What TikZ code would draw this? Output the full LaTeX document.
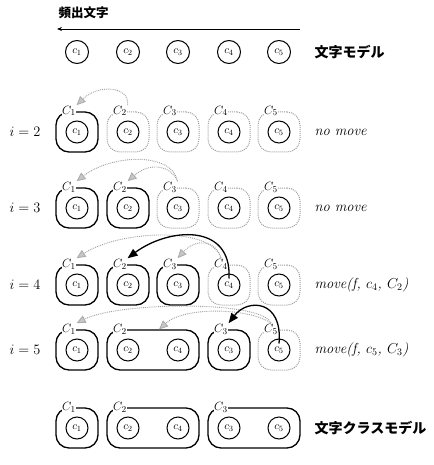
\documentclass[tikz,border=0pt]{standalone}
\usepackage{fontspec}
\newfontfamily\cjk{Noto Sans CJK JP}
\usetikzlibrary{arrows.meta}
\begin{document}
\begin{tikzpicture}[x=1pt,y=-1pt,
  chr/.style={circle, draw, line width=1pt, minimum size=22pt, inner sep=0pt, font=\fontsize{11}{11}\selectfont},
  cls/.style={draw, line width=1.3pt, rounded corners=13pt, minimum width=42pt, minimum height=40pt, inner sep=0pt},
  clsw/.style={cls, minimum width=92pt},
  clsd/.style={draw=gray!75, densely dotted, line width=1pt, rounded corners=13pt, minimum width=42pt, minimum height=40pt, inner sep=0pt},
  clab/.style={fill=white, inner sep=0.6pt, font=\fontsize{13}{13}\selectfont},
  garc/.style={draw=gray!75, densely dotted, line width=0.9pt, -{Triangle[length=9pt,width=8pt,color=gray!65,fill=gray!45]}},
  barc/.style={line width=1.3pt, -{Triangle[length=10pt,width=8pt]}},
  rlab/.style={anchor=west, font=\fontsize{14.5}{16}\selectfont},
  jlab/.style={anchor=west, font=\cjk\bfseries\fontsize{14}{16}\selectfont},
]
\useasboundingbox (0,0) rectangle (433,465);

% header
\node[anchor=west, font=\cjk\bfseries\fontsize{12.5}{14}\selectfont] (freq) at (55,13) {頻出文字};
\coordinate (ar) at (300,29);
\coordinate (al) at (57,29);
\draw[line width=0.8pt,-{Stealth[length=5pt,width=4pt]}] (ar) -- (al);

% row 0
\foreach \i/\x in {1/77,2/128,3/178,4/229,5/279}{
  \node[chr, minimum size=23pt] (c0\i) at (\x,52) {$c_{\i}$};
}
\node[jlab] (m0) at (311,52) {文字モデル};

% row i=2
\foreach \i/\x/\s in {1/77/cls,2/128/clsd,3/178/clsd,4/229/clsd,5/279/clsd}{
  \node[\s] (b2\i) at (\x,132) {};
  \node[chr] (c2\i) at (\x,132) {$c_{\i}$};
  \node[clab] (l2\i) at (\x-8,111) {$C_{\i}$};
}
\node[rlab] (i2) at (6,132) {$i=2$};
\node[rlab] (m2) at (311,132) {\itshape no move};
\draw[garc] (l22.north east) .. controls (130,86) and (98,84) .. (l21.north east);

% row i=3
\foreach \i/\x/\s in {1/77/cls,2/128/cls,3/178/clsd,4/229/clsd,5/279/clsd}{
  \node[\s] (b3\i) at (\x,208) {};
  \node[chr] (c3\i) at (\x,208) {$c_{\i}$};
  \node[clab] (l3\i) at (\x-8,187) {$C_{\i}$};
}
\node[rlab] (i3) at (6,208) {$i=3$};
\node[rlab] (m3) at (311,208) {\itshape no move};
\draw[garc] (l33.north east) .. controls (172,152) and (112,154) .. (l31.north east);
\draw[garc] (l33.north east) .. controls (170,165) and (150,162) .. (l32.north east);

% row i=4
\foreach \i/\x/\s in {1/77/cls,2/128/cls,3/178/cls,4/229/clsd,5/279/clsd}{
  \node[\s] (b4\i) at (\x,285) {};
  \node[chr] (c4\i) at (\x,285) {$c_{\i}$};
  \node[clab] (l4\i) at (\x-8,264) {$C_{\i}$};
}
\node[rlab] (i4) at (6,285) {$i=4$};
\node[rlab] (m4) at (311,285) {\itshape move(f, $c_4$, $C_2$)};
\draw[garc] (l44.north) .. controls (212,226) and (120,230) .. (l41.north east);
\draw[garc] (l44.north) .. controls (216,240) and (196,238) .. (l43.north east);
\draw[barc] ([yshift=-5pt]c44.north) .. controls (232,222) and (168,228) .. (l42.north east);

% row i=5
\node[cls] (b51) at (77,350) {};
\node[clsw] (b52) at (153,350) {};
\node[cls] (b53) at (229,350) {};
\node[clsd] (b55) at (279,350) {};
\node[chr] (c51) at (77,350) {$c_1$};
\node[chr] (c52) at (128,350) {$c_2$};
\node[chr] (c54) at (178,350) {$c_4$};
\node[chr] (c53) at (229,350) {$c_3$};
\node[chr] (c55) at (279,350) {$c_5$};
\node[clab] (l51) at (69,329) {$C_1$};
\node[clab] (l52) at (120,329) {$C_2$};
\node[clab] (l53) at (221,329) {$C_3$};
\node[clab] (l55) at (271,329) {$C_5$};
\node[rlab] (i5) at (6,350) {$i=5$};
\node[rlab] (m5) at (311,350) {\itshape move(f, $c_5$, $C_3$)};
\draw[garc] (l55.north) .. controls (262,300) and (118,302) .. (l51.north east);
\draw[garc] (l55.north) .. controls (250,308) and (185,306) .. ([xshift=6pt]b52.north);
\draw[barc] ([yshift=-5pt]c55.north) .. controls (283,300) and (248,298) .. (l53.north east);

% final row
\node[cls] (b61) at (77,428) {};
\node[clsw] (b62) at (153,428) {};
\node[clsw] (b63) at (254,428) {};
\node[chr] (c61) at (77,428) {$c_1$};
\node[chr] (c62) at (128,428) {$c_2$};
\node[chr] (c64) at (178,428) {$c_4$};
\node[chr] (c63) at (229,428) {$c_3$};
\node[chr] (c65) at (279,428) {$c_5$};
\node[clab] (l61) at (69,407) {$C_1$};
\node[clab] (l62) at (120,407) {$C_2$};
\node[clab] (l63) at (221,407) {$C_3$};
\node[jlab] (m6) at (311,428) {文字クラスモデル};
\end{tikzpicture}
\end{document}
